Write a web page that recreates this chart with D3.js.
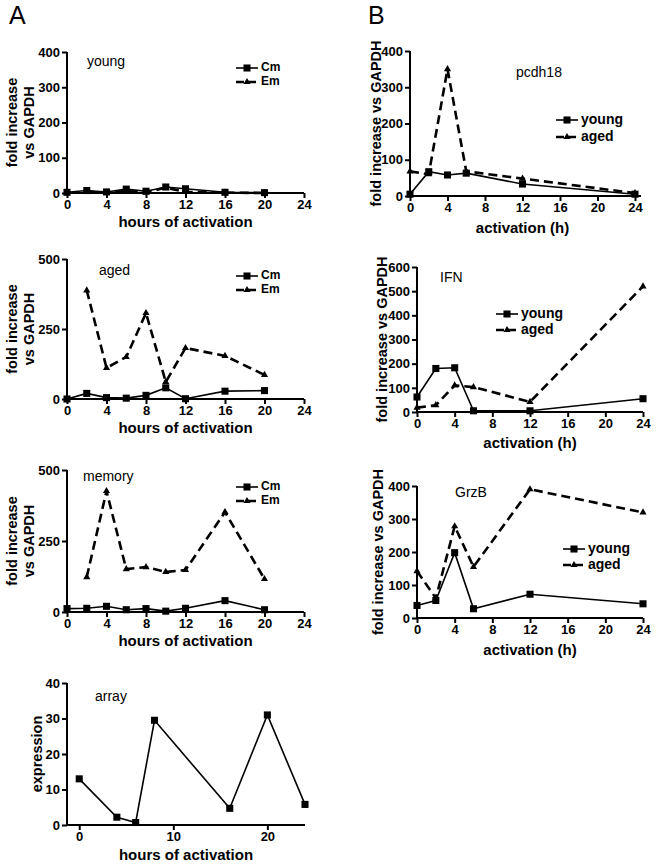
<!DOCTYPE html>
<html><head><meta charset="utf-8">
<script src="https://cdn.jsdelivr.net/npm/d3@7"></script>
<style>
body{margin:0;background:#fff;}
svg{font-family:"Liberation Sans",Arial,sans-serif;}
</style></head><body>
<svg id="c" width="661" height="864"></svg>
<script>
// ---- data ----
const hoursA = [0, 2, 4, 6, 8, 10, 12, 16, 20];
const hoursEmA = [2, 4, 6, 8, 10, 12, 16, 20];
const youngCm = [2, 7, 3, 11, 5, 17, 12, 2, 1];
const youngEm = [3, 1, 5, 2, 15, 3, 1, 0];
const agedCm = [0, 20, 5, 3, 13, 40, 1, 28, 30];
const agedEm = [388, 111, 150, 307, 61, 182, 154, 86];
const memoryCm = [12, 13, 20, 8, 12, 3, 13, 40, 8];
const memoryEm = [123, 426, 151, 158, 141, 148, 352, 116];
const arrayHours = [0, 4, 6, 8, 16, 20, 24];
const arrayExpr = [13, 2.2, 0.7, 29.5, 4.7, 31, 5.8];
const hoursB = [0, 2, 4, 6, 12, 24];
const pcdhYoung = [5, 67, 58, 63, 33, 5];
const pcdhAged = [68, 60, 350, 68, 48, 8];
const ifnYoung = [62, 180, 183, 5, 5, 55];
const ifnAged = [18, 28, 110, 103, 42, 520];
const grzYoung = [38, 53, 198, 28, 72, 43];
const grzAged = [142, 60, 278, 155, 390, 320];
const ticksA = [0, 4, 8, 12, 16, 20, 24];
const ticksArray = [0, 10, 20];

const svg = d3.select("#c");
const tri = d3.symbol().type(d3.symbolTriangle).size(22);
const sq = d3.symbol().type(d3.symbolSquare).size(50);

function panel(o) {
  const g = svg.append("g");
  const x = d3.scaleLinear().domain(o.xd).range([o.x0, o.x1]);
  const y = d3.scaleLinear().domain(o.yd).range([o.y0, o.y1]);
  const xa = g.append("g").attr("transform", `translate(0,${o.y0})`)
    .call(d3.axisBottom(x).tickValues(o.xt).tickSize(5).tickPadding(2).tickFormat(d3.format("d")));
  const ya = g.append("g").attr("transform", `translate(${o.x0},0)`)
    .call(d3.axisLeft(y).tickValues(o.yt).tickSize(5).tickPadding(2).tickFormat(d3.format("d")));
  [xa, ya].forEach(a => {
    a.attr("font-size", null).attr("font-family", null);
    a.select(".domain").attr("stroke-width", 2);
    a.selectAll(".tick line").attr("stroke-width", 2);
    a.selectAll(".tick text").style("font-size", "13px").style("font-weight", "bold").attr("fill", "#000")
      .style("font-family", "'Liberation Sans', Arial, sans-serif");
  });
  xa.select(".domain").attr("d", `M${o.x0},0H${o.xext || o.x1}`);
  ya.select(".domain").attr("d", `M0,${o.y0}V${o.y1}`);
  // x label
  g.append("text").attr("x", (o.x0 + o.x1) / 2).attr("y", o.xlY).attr("text-anchor", "middle")
    .attr("font-size", 15).attr("font-weight", "bold").text(o.xl);
  // y label
  o.yl.forEach((t, i) => {
    g.append("text").attr("transform", `translate(${o.ylX[i]},${(o.y0 + o.y1) / 2}) rotate(-90)`)
      .attr("text-anchor", "middle").attr("dominant-baseline", "middle")
      .attr("font-size", 14.5).attr("font-weight", "bold").text(t);
  });
  // title
  g.append("text").attr("x", o.tX).attr("y", o.tY).attr("font-size", 14).text(o.title);
  const line = d3.line().x(d => x(d[0])).y(d => y(d[1]));
  o.series.forEach(s => {
    const pts = s.xs.map((h, i) => [h, s.ys[i]]);
    g.append("path").datum(pts).attr("d", line).attr("fill", "none").attr("stroke", "#000")
      .attr("stroke-width", s.dash ? 2.6 : 1.6).attr("stroke-dasharray", s.dash ? "9,5" : null);
    g.selectAll(null).data(pts).enter().append("path")
      .attr("transform", d => `translate(${x(d[0])},${y(d[1])})`)
      .attr("d", s.dash ? tri : sq).attr("fill", "#000");
  });
  if (o.legend) {
    o.legend.names.forEach((n, i) => {
      const ly = o.legend.y + i * o.legend.dy;
      const dash = i === 1;
      g.append("line").attr("x1", o.legend.x).attr("x2", o.legend.x + 22).attr("y1", ly).attr("y2", ly)
        .attr("stroke", "#000").attr("stroke-width", dash ? 2.6 : 1.6).attr("stroke-dasharray", dash ? "8,4" : null);
      g.append("path").attr("transform", `translate(${o.legend.x + 11},${ly})`).attr("d", dash ? tri : sq);
      g.append("text").attr("x", o.legend.x + 25).attr("y", ly).attr("dominant-baseline", "middle")
        .attr("font-size", o.legend.fs).attr("font-weight", "bold").text(n);
    });
  }
}

svg.append("text").attr("x", 9).attr("y", 24).attr("font-size", 25).text("A");
svg.append("text").attr("x", 368).attr("y", 24).attr("font-size", 25).text("B");

const Aax = {xd: [0, 24], x0: 67, x1: 304, xt: ticksA, xl: "hours of activation", yl: ["fold increase", "vs GAPDH"], ylX: [13, 30]};
panel(Object.assign({}, Aax, {
  yd: [0, 400], y0: 193, y1: 52, yt: [0, 100, 200, 300, 400], xlY: 227,
  title: "young", tX: 87, tY: 66, legend: {names: ["Cm", "Em"], x: 236, y: 68, dy: 14, fs: 12},
  series: [{xs: hoursA, ys: youngCm}, {xs: hoursEmA, ys: youngEm, dash: true}]
}));
panel(Object.assign({}, Aax, {
  yd: [0, 500], y0: 399, y1: 259, yt: [0, 250, 500], xlY: 433,
  title: "aged", tX: 99, tY: 275, legend: {names: ["Cm", "Em"], x: 236, y: 276, dy: 14, fs: 12},
  series: [{xs: hoursA, ys: agedCm}, {xs: hoursEmA, ys: agedEm, dash: true}]
}));
panel(Object.assign({}, Aax, {
  yd: [0, 500], y0: 612, y1: 470, yt: [0, 250, 500], xlY: 646,
  title: "memory", tX: 83, tY: 481, legend: {names: ["Cm", "Em"], x: 236, y: 487, dy: 14, fs: 12},
  series: [{xs: hoursA, ys: memoryCm}, {xs: hoursEmA, ys: memoryEm, dash: true}]
}));
panel({
  xd: [-1.3, 24], x0: 67, x1: 305, xt: ticksArray, xl: "hours of activation", yl: ["expression"], ylX: [38],
  yd: [0, 40], y0: 825, y1: 683, yt: [0, 10, 20, 30, 40], xlY: 860,
  title: "array", tX: 95, tY: 701,
  series: [{xs: arrayHours, ys: arrayExpr}]
});
const Bax = {xd: [0, 24], xt: ticksA, xl: "activation (h)", yl: ["fold increase vs GAPDH"]};
panel(Object.assign({}, Bax, {
  x0: 410, x1: 635, xext: 641, ylX: [377],
  yd: [0, 400], y0: 196, y1: 51, yt: [0, 100, 200, 300, 400], xlY: 233,
  title: "pcdh18", tX: 516, tY: 77, legend: {names: ["young", "aged"], x: 556, y: 120, dy: 17, fs: 14},
  series: [{xs: hoursB, ys: pcdhYoung}, {xs: hoursB, ys: pcdhAged, dash: true}]
}));
panel(Object.assign({}, Bax, {
  x0: 417, x1: 643, ylX: [383],
  yd: [0, 600], y0: 412, y1: 267, yt: [0, 100, 200, 300, 400, 500, 600], xlY: 448,
  title: "IFN", tX: 440, tY: 282, legend: {names: ["young", "aged"], x: 496, y: 314, dy: 16, fs: 14},
  series: [{xs: hoursB, ys: ifnYoung}, {xs: hoursB, ys: ifnAged, dash: true}]
}));
panel(Object.assign({}, Bax, {
  x0: 417, x1: 643, ylX: [379],
  yd: [0, 400], y0: 618, y1: 486, yt: [0, 100, 200, 300, 400], xlY: 655,
  title: "GrzB", tX: 455, tY: 497, legend: {names: ["young", "aged"], x: 563, y: 549, dy: 16, fs: 14},
  series: [{xs: hoursB, ys: grzYoung}, {xs: hoursB, ys: grzAged, dash: true}]
}));
</script></body></html>
